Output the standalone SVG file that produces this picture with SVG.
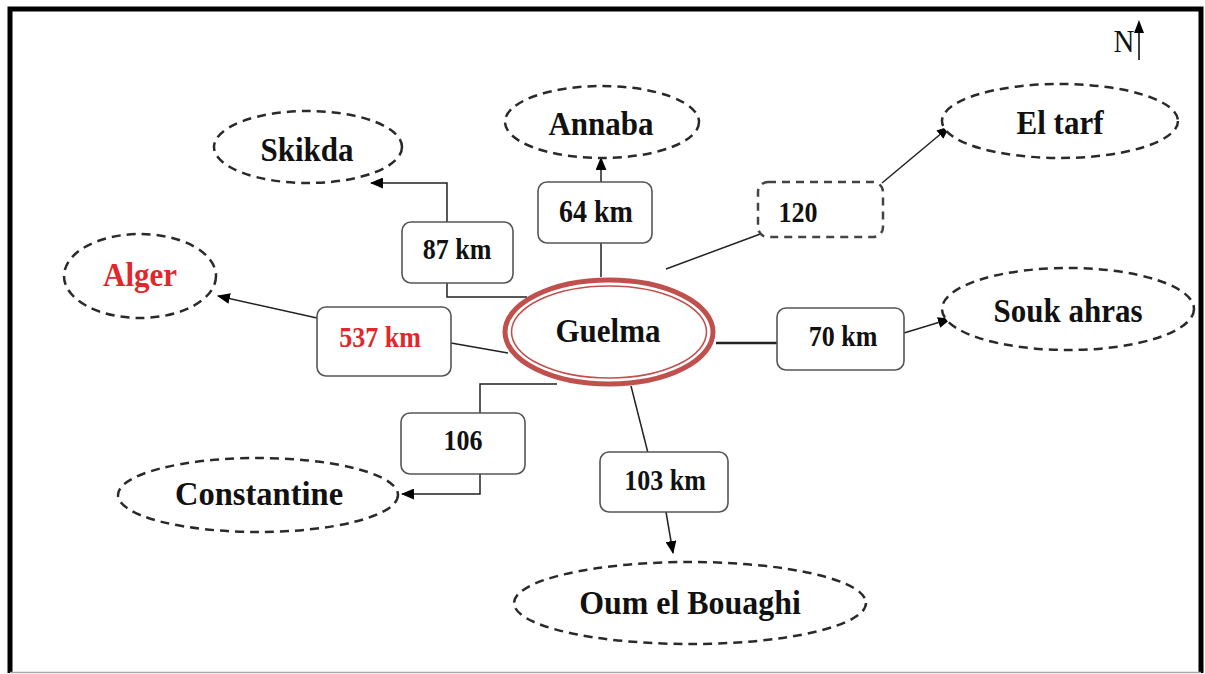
<svg xmlns="http://www.w3.org/2000/svg" width="1205" height="674" viewBox="0 0 1205 674">
<defs>
<marker id="arr" viewBox="0 0 12 10" refX="11" refY="5" markerWidth="13" markerHeight="11" markerUnits="userSpaceOnUse" orient="auto">
<path d="M0,0 L12,5 L0,10 Z" fill="#000"/>
</marker>
</defs>
<style>
.city{fill:#fff;stroke:#2a2a2a;stroke-width:2.5;stroke-dasharray:9 6}
.box{fill:#fff;stroke:#555;stroke-width:1.6}
.dbox{fill:#fff;stroke:#444;stroke-width:2.5;stroke-dasharray:8 6}
.t{font-family:"Liberation Serif","Times New Roman",serif;font-weight:bold;text-anchor:middle;fill:#111}
.big{font-size:31px}
.km{font-size:26px}
.red{fill:#e3262b}
.c{fill:none;stroke:#222;stroke-width:1.5}
.ca{fill:none;stroke:#222;stroke-width:1.5;marker-end:url(#arr)}
</style>
<rect width="1205" height="674" fill="#fff"/>
<path d="M10,673 L10,9 L1201,9 L1201,673" fill="none" stroke="#000" stroke-width="5"/>
<line x1="10" y1="672.5" x2="1201" y2="672.5" stroke="#aaa" stroke-width="1.5"/>

<g id="north">
<text transform="translate(1124,52) scale(1,1.12)" style="font-family:'Liberation Serif','Times New Roman',serif;font-size:29px;text-anchor:middle" fill="#111">N</text>
<line x1="1139" y1="60" x2="1139" y2="30" stroke="#000" stroke-width="1.5"/>
<path d="M1134,33 L1139,20 L1144,33 Z" fill="#000"/>
</g>

<g id="connectors">
<polyline class="c" points="527,297 447,297 447,283"/>
<polyline class="ca" points="447,222 447,183 371,183"/>
<line class="c" x1="601" y1="277" x2="601" y2="243"/>
<line class="ca" x1="601" y1="182" x2="601" y2="158"/>
<line class="c" x1="666" y1="269" x2="763" y2="233"/>
<line class="ca" x1="882" y1="183" x2="949" y2="127"/>
<line x1="716" y1="343" x2="777" y2="343" stroke="#222" stroke-width="2.5"/>
<line class="ca" x1="904" y1="333" x2="950" y2="319"/>
<line class="c" x1="451" y1="343" x2="508" y2="353"/>
<line class="ca" x1="317" y1="318" x2="218" y2="296"/>
<polyline class="c" points="557,384 480,384 480,413"/>
<polyline class="ca" points="480,474 480,494 402,494"/>
<line class="c" x1="631" y1="386" x2="648" y2="453"/>
<line class="ca" x1="666" y1="512" x2="673" y2="553"/>
</g>

<g id="guelma">
<ellipse cx="609" cy="332" rx="104" ry="52" fill="#fff" stroke="#c0504d" stroke-width="5"/>
<ellipse cx="609" cy="332" rx="97.5" ry="46" fill="none" stroke="#c0504d" stroke-width="1.6"/>
<text class="t big" transform="translate(608,342) scale(1,1.12)">Guelma</text>
</g>

<g id="skikda">
<ellipse class="city" cx="308" cy="147" rx="94" ry="36"/>
<text class="t big" transform="translate(307,161) scale(1,1.12)">Skikda</text>
</g>
<g id="annaba">
<ellipse class="city" cx="602" cy="122" rx="97" ry="36"/>
<text class="t big" transform="translate(601,135) scale(1,1.12)">Annaba</text>
</g>
<g id="eltarf">
<ellipse class="city" cx="1060" cy="121" rx="118" ry="37"/>
<text class="t big" transform="translate(1060,134) scale(1,1.12)">El tarf</text>
</g>
<g id="soukahras">
<ellipse class="city" cx="1068" cy="309" rx="126" ry="41"/>
<text class="t big" transform="translate(1068,322) scale(1,1.12)">Souk ahras</text>
</g>
<g id="alger">
<ellipse class="city" cx="140" cy="276" rx="76" ry="42"/>
<text class="t big red" transform="translate(140,286) scale(1,1.12)">Alger</text>
</g>
<g id="constantine">
<ellipse class="city" cx="258" cy="495" rx="140" ry="37"/>
<text class="t big" transform="translate(259,505) scale(1.05,1.12)">Constantine</text>
</g>
<g id="oumelbouaghi">
<ellipse class="city" cx="690" cy="603" rx="176" ry="41"/>
<text class="t big" transform="translate(690,614) scale(1.03,1.12)">Oum el Bouaghi</text>
</g>

<g id="d87">
<rect class="box" x="402" y="222" width="111" height="61" rx="9"/>
<text class="t km" transform="translate(457,259) scale(1,1.1)">87 km</text>
</g>
<g id="d537">
<rect class="box" x="317" y="307" width="134" height="69" rx="9"/>
<text class="t km red" transform="translate(380,347) scale(1,1.1)">537 km</text>
</g>
<g id="d64">
<rect class="box" x="538" y="182" width="114" height="61" rx="9"/>
<text class="t km" transform="translate(596,222) scale(1,1.1)" style="font-size:28px">64 km</text>
</g>
<g id="d120">
<rect class="dbox" x="758" y="182" width="125" height="55" rx="10"/>
<text class="t km" transform="translate(798,222) scale(1,1.1)">120</text>
</g>
<g id="d70">
<rect class="box" x="777" y="308" width="127" height="62" rx="9"/>
<text class="t km" transform="translate(843,346) scale(1,1.1)">70 km</text>
</g>
<g id="d106">
<rect class="box" x="401" y="413" width="124" height="61" rx="9"/>
<text class="t km" transform="translate(463,450) scale(1,1.1)">106</text>
</g>
<g id="d103">
<rect class="box" x="600" y="452" width="128" height="60" rx="9"/>
<text class="t km" transform="translate(665,490) scale(1,1.1)">103 km</text>
</g>
</svg>
